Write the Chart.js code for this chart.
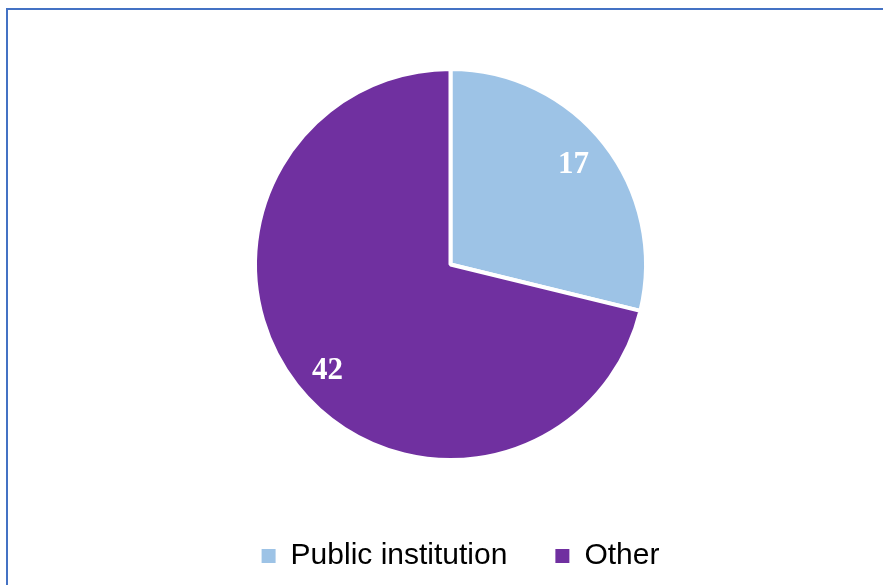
<!DOCTYPE html>
<html>
<head>
<meta charset="utf-8">
<script src="https://cdn.jsdelivr.net/npm/chart.js@4.4.0/dist/chart.umd.min.js"></script>
<style>
  html, body { margin: 0; padding: 0; background: #fff; }
  #wrap { position: relative; width: 883px; height: 585px; overflow: hidden; }
  #frame { position: absolute; left: 6px; top: 8px; width: 1000px; height: 1000px;
           border-top: 2px solid #4472C4; border-left: 2px solid #4472C4; }
  #pieChart { position: absolute; left: 0; top: 0; }
</style>
</head>
<body>
<div id="wrap">
  <div id="frame"></div>
  <canvas id="pieChart" width="883" height="585"></canvas>
</div>
<script>
var categories = ["Public institution", "Other"];
var counts = [17, 42];
var sliceColors = ["#9DC3E6", "#7030A0"];

var ctx = document.getElementById("pieChart");
var pieChart = new Chart(ctx, {
	type: "pie",
	data: {
		labels: categories,
		datasets: [
			{
				data: counts,
				backgroundColor: sliceColors,
				borderColor: "#ffffff",
				borderWidth: 4,
			},
		],
	},
	options: {
		responsive: false,
		animation: false,
		radius: 195.5,
		layout: {
			padding: { top: 36, left: 38, right: 0, bottom: 4 },
		},
		plugins: {
			tooltip: { enabled: false },
			// empty title on the right only to nudge the pie left of the legend centre
			title: {
				display: true,
				text: "",
				position: "right",
				fullSize: false,
				font: { size: 10, lineHeight: 1 },
				padding: 5,
			},
			legend: {
				display: true,
				position: "bottom",
				labels: {
					boxWidth: 14,
					boxHeight: 14,
					padding: 48,
					color: "#000000",
					font: { family: "'Liberation Sans', Arial, sans-serif", size: 30 },
					generateLabels: function (chart) {
						var items = Chart.overrides.pie.plugins.legend.labels.generateLabels(chart);
						items.forEach(function (it) { it.lineWidth = 0; });
						return items;
					},
				},
			},
		},
	},
	plugins: [
		{
			// value labels inside the slices
			afterDatasetsDraw: function (chart) {
				var c = chart.ctx;
				var meta = chart.getDatasetMeta(0);
				var turn = -1.7 * Math.PI / 180;
				c.save();
				c.fillStyle = "#ffffff";
				c.font = "bold 31px 'Liberation Serif', 'Times New Roman', serif";
				c.textAlign = "center";
				c.textBaseline = "middle";
				meta.data.forEach(function (arc, i) {
					var p = arc.getProps(["x", "y", "startAngle", "endAngle", "outerRadius"], true);
					var mid = (p.startAngle + p.endAngle) / 2 + turn;
					var r = p.outerRadius * 0.82;
					c.fillText(String(counts[i]), p.x + Math.cos(mid) * r, p.y + Math.sin(mid) * r + 3.5);
				});
				c.restore();
			},
		},
	],
});
</script>
</body>
</html>
